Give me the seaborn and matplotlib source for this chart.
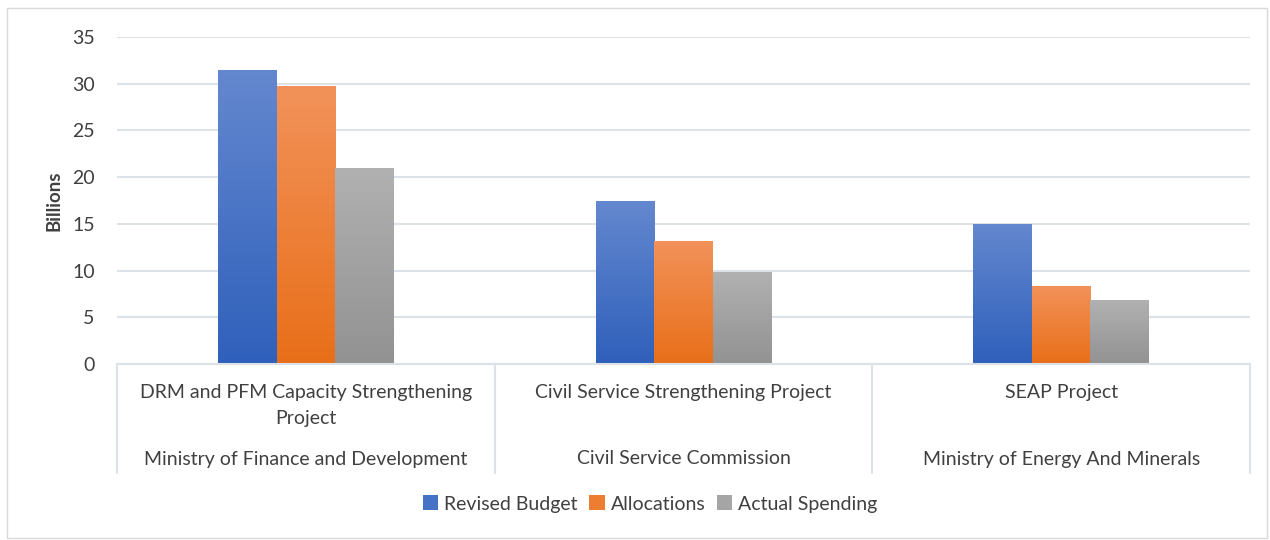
import numpy as np
import pandas as pd
import matplotlib
matplotlib.use("Agg")
import matplotlib.pyplot as plt
from matplotlib.colors import LinearSegmentedColormap
from matplotlib.patches import Rectangle, Patch
import seaborn as sns

# Data
projects = ["DRM and PFM Capacity Strengthening\nProject",
            "Civil Service Strengthening Project",
            "SEAP Project"]
ministries = ["Ministry of Finance and Development",
              "Civil Service Commission",
              "Ministry of Energy And Minerals"]
series = ["Revised Budget", "Allocations", "Actual Spending"]
revised_budget = [31.5, 17.5, 15.0]
allocations = [29.8, 13.2, 8.4]
actual_spending = [21.0, 9.8, 6.8]

df = pd.DataFrame({
    "project": projects * 3,
    "series": [s for s in series for _ in projects],
    "value": revised_budget + allocations + actual_spending,
})

# gradient (top, bottom) per series, Excel-like
grad = {
    "Revised Budget": ("#6488cf", "#2f60bb"),
    "Allocations": ("#f2925a", "#e86f19"),
    "Actual Spending": ("#b1b1b1", "#929292"),
}
solid = {"Revised Budget": "#4472c4", "Allocations": "#ed7d31", "Actual Spending": "#a5a5a5"}

sns.set_theme(style="white")
plt.rcParams['font.family'] = ['Lato', 'DejaVu Sans']
text_col = "#404040"
grid_col = "#dde2e8"
fs = 14

fig = plt.figure(figsize=(12.7, 5.4), dpi=100)
ax = fig.add_axes([117 / 1270, 1 - 364 / 540, (1250 - 117) / 1270, (364 - 37) / 540])

sns.barplot(data=df, x="project", y="value", hue="series", palette=solid,
            width=0.465, ax=ax, legend=False, saturation=1)

ax.yaxis.grid(True, color=grid_col, linewidth=1.5)
ax.set_axisbelow(True)
for s in ax.spines.values():
    s.set_visible(False)
ax.set_yticks(range(0, 36, 5))
ax.tick_params(axis="y", length=0, pad=16, labelsize=fs, labelcolor=text_col)
ax.set_ylabel("Billions", fontsize=13.5, fontweight="bold", color=text_col, labelpad=7)
ax.set_xlabel("")

# gradient fill on each bar
for i, s in enumerate(series):
    cmap = LinearSegmentedColormap.from_list(s, [grad[s][1], grad[s][0]])
    for p in ax.containers[i].patches:
        x0, y0 = p.get_x(), p.get_y()
        w, h = p.get_width(), p.get_height()
        img = ax.imshow(np.linspace(0, 1, 256).reshape(-1, 1), cmap=cmap,
                        extent=[x0, x0 + w, y0, y0 + h], origin="lower",
                        aspect="auto", zorder=2)
        img.set_clip_path(p)
        p.set_facecolor("none")
        p.set_edgecolor("none")
ax.set_xlim(-0.5, 2.5)
ax.set_ylim(0, 35)

# multi-level category axis
ax.set_xticks([0, 1, 2])
ax.set_xticklabels([])
ax.tick_params(axis="x", length=0)
tr = ax.get_xaxis_transform()
axh = 364 - 37
for i, (p, m) in enumerate(zip(projects, ministries)):
    ax.text(i, -(384 - 364) / axh, p, transform=tr, ha="center", va="top",
            fontsize=fs, color=text_col, linespacing=1.65)
    ax.text(i, -(459 - 364) / axh, m, transform=tr, ha="center", va="center",
            fontsize=fs, color=text_col)
ax.plot([-0.5, 2.5], [0, 0], transform=tr, color=grid_col, lw=1.5, clip_on=False)
for xb in [-0.5, 0.5, 1.5, 2.5]:
    ax.plot([xb, xb], [0, -(473 - 364) / axh], transform=tr, color=grid_col,
            lw=1.5, clip_on=False)

# legend
handles = [Patch(facecolor=solid[s], edgecolor="none") for s in series]
fig.legend(handles, series, loc="center", bbox_to_anchor=(650 / 1270, 1 - 504 / 540),
           ncol=3, frameon=False, fontsize=fs, handlelength=0.8, handleheight=0.8,
           handletextpad=0.3, columnspacing=0.6, labelcolor=text_col)

# chart border
fig.patches.append(Rectangle((7 / 1270, 2 / 540), 1260 / 1270, 530 / 540,
                             transform=fig.transFigure, fill=False,
                             edgecolor="#d9d9d9", lw=1))

fig.savefig("out.png", dpi=100, facecolor="white")
